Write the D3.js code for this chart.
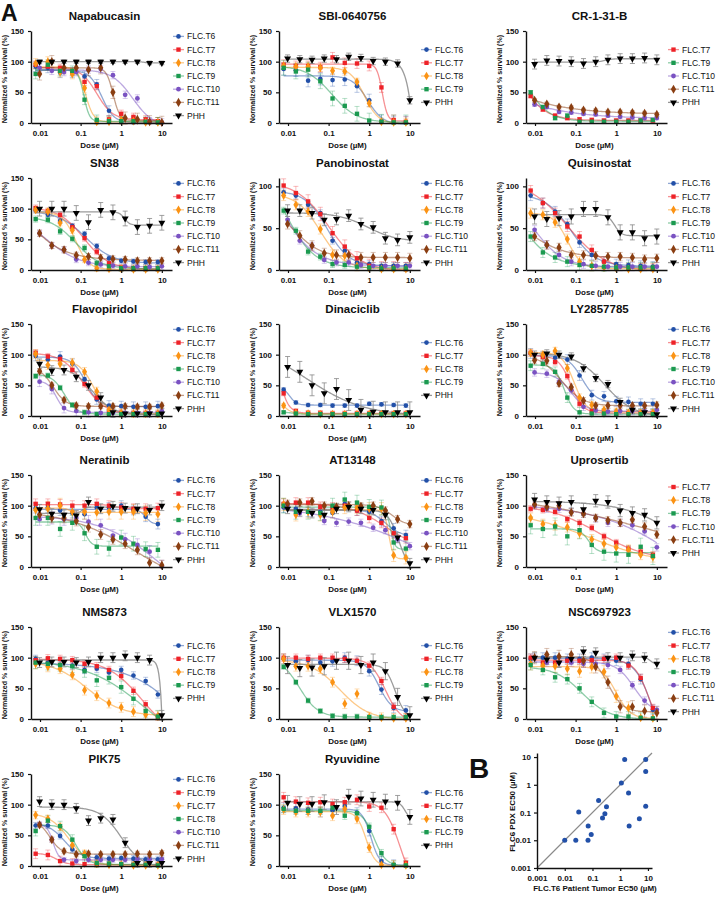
<!DOCTYPE html>
<html><head><meta charset="utf-8">
<script src="https://cdn.jsdelivr.net/npm/d3@7"></script>
<style>
body{margin:0;background:#fff}
svg{display:block}
text{font-family:"Liberation Sans",Arial,sans-serif;fill:#111}
</style></head>
<body><svg id="c" width="718" height="897"></svg>
<script>
// ---------------- DATA ----------------
const dosesTumor = [0.0078125, 0.015625, 0.03125, 0.0625, 0.125, 0.25, 0.5, 1, 2, 4, 8];
const dosesPHH   = [0.009765625, 0.01953125, 0.0390625, 0.078125, 0.15625, 0.3125, 0.625, 1.25, 2.5, 5, 10];
const xTickValues = [0.01, 0.1, 1, 10];
const xTickLabels = ["0.01", "0.1", "1", "10"];

const drugTitles = ["Napabucasin","SBI-0640756","CR-1-31-B","SN38","Panobinostat","Quisinostat",
  "Flavopiridol","Dinaciclib","LY2857785","Neratinib","AT13148","Uprosertib",
  "NMS873","VLX1570","NSC697923","PIK75","Ryuvidine"];
const yAxisMax = [150,150,150,150,110,110,150,150,150,150,150,150,150,150,150,150,150];

const allSeries = ["FLC.T6","FLC.T7","FLC.T8","FLC.T9","FLC.T10","FLC.T11","PHH"];
const fourSeries = ["FLC.T6","FLC.T7","FLC.T8","FLC.T9","PHH"];

const napabucasinSeries = allSeries;
const napabucasinValues = [
  [92,90,82,82,76,63,20,2,1,1,1],
  [95,92,90,83,67,60,6,15,10,6,3],
  [97,100,83,80,57,2,2,5,3,1,1],
  [80,95,85,85,38,5,3,3,3,2,1],
  [90,85,83,83,87,88,78,46,40,3,1],
  [80,100,90,90,87,90,50,8,6,2,1],
  [100,100,100,100,100,100,100,100,100,98,98]];
const napabucasinErrors = [8,6,8,8,6,10,3];

const sbiSeries = fourSeries;
const sbiValues = [
  [88,86,69,72,70,71,60,37,3,1,1],
  [95,93,93,91,107,98,97,93,58,5,2],
  [93,92,92,90,85,84,67,32,2,1,1],
  [90,84,87,68,40,28,15,4,2,1,1],
  [105,104,103,105,104,108,106,101,100,97,37]];
const sbiErrors = [10,8,6,12,6,8,14];

const crSeries = ["FLC.T7","FLC.T9","FLC.T10","FLC.T11","PHH"];
const crValues = [
  [44,22,12,8,6,5,4,4,4,4,4],
  [50,26,8,12,2,2,2,2,2,4,5],
  [30,26,18,17,15,14,12,10,9,8,8],
  [37,31,26,25,21,20,18,18,17,16,14],
  [96,102,101,100,97,100,103,105,105,106,103]];
const crErrors = [3,3,3,3,8];

const sn38Series = allSeries;
const sn38Values = [
  [97,90,80,72,59,39,19,15,14,13,13],
  [101,96,90,70,52,30,11,4,3,3,3],
  [98,95,77,65,17,3,2,2,1,1,1],
  [83,82,63,51,36,11,6,3,3,3,3],
  [60,40,33,17,12,9,7,6,6,5,6],
  [60,40,33,24,22,20,18,17,15,15,15],
  [100,100,100,93,78,98,94,84,70,72,77]];
const sn38Errors = [4,5,5,5,5,5,12];

const panobinostatSeries = allSeries;
const panobinostatValues = [
  [93,89,78,68,35,23,9,7,5,5,5],
  [101,92,82,67,44,28,14,5,2,2,1],
  [89,78,70,49,18,17,5,2,1,1,1],
  [71,47,22,16,7,6,4,3,2,2,2],
  [60,35,29,12,9,9,6,5,5,5,5],
  [55,41,29,20,18,18,15,15,15,15,14],
  [71,71,68,60,61,65,55,51,38,36,39]];
const panobinostatErrors = [4,8,6,4,4,6,7];

const quisinostatSeries = allSeries;
const quisinostatValues = [
  [89,80,70,55,33,18,10,7,6,5,4],
  [95,80,68,52,40,24,10,3,2,2,2],
  [68,66,57,37,10,5,3,2,1,1,1],
  [40,21,15,10,6,5,4,3,3,3,3],
  [48,30,18,10,7,5,4,4,4,4,4],
  [40,30,27,18,18,17,16,16,15,13,14],
  [64,61,62,64,73,73,63,45,45,38,40]];
const quisinostatErrors = [6,6,6,6,5,5,9];

const flavopiridolSeries = allSeries;
const flavopiridolValues = [
  [98,92,97,85,60,27,17,16,15,15,16],
  [103,97,93,75,52,30,5,5,4,4,4],
  [101,83,85,87,72,40,10,5,4,4,4],
  [65,66,46,18,6,3,3,3,3,3,3],
  [56,44,13,8,6,5,5,5,5,5,8],
  [73,50,26,17,16,16,16,16,15,15,17],
  [85,74,75,64,50,30,6,4,4,4,4]];
const flavopiridolErrors = [8,5,7,4,8,4,8];

const dinaciclibSeries = fourSeries;
const dinaciclibValues = [
  [43,22,18,18,17,17,17,20,19,18,17],
  [37,8,5,5,4,4,4,4,4,4,4],
  [17,5,4,3,3,3,3,3,3,3,3],
  [6,4,3,3,3,3,3,3,3,3,3],
  [80,72,50,37,44,26,10,7,6,6,6]];
const dinaciclibErrors = [3,4,3,2,17];

const lySeries = allSeries;
const lyValues = [
  [102,97,95,92,66,34,32,24,23,20,20],
  [103,96,88,65,20,8,6,5,5,5,5],
  [103,100,106,78,30,18,10,7,5,5,5],
  [82,85,72,30,6,4,4,3,3,3,3],
  [71,69,55,42,15,9,7,8,8,8,10],
  [91,90,53,47,25,17,17,17,17,17,18],
  [100,102,100,97,78,62,52,23,10,6,3]];
const lyErrors = [8,5,6,8,6,5,6];

const neratinibSeries = allSeries;
const neratinibValues = [
  [96,97,92,88,86,97,97,100,93,82,70],
  [103,103,102,100,100,103,100,97,95,95,96],
  [93,95,100,90,90,89,90,90,90,88,86],
  [80,80,62,72,55,33,30,48,38,29,28],
  [78,80,78,80,74,68,51,45,36,25,1],
  [85,80,80,75,65,53,45,38,28,7,3],
  [94,87,85,84,106,95,99,96,95,93,100]];
const neratinibErrors = [8,8,12,12,10,8,8];

const at13148Series = allSeries;
const at13148Values = [
  [97,95,90,90,88,103,92,90,75,63,52],
  [103,105,105,98,97,100,92,80,72,55,47],
  [102,85,90,85,90,97,97,95,95,19,15],
  [100,90,90,88,100,110,105,98,97,40,30],
  [100,88,88,75,72,74,72,64,60,45,34],
  [103,105,107,100,98,100,99,100,92,78,70],
  [95,91,88,85,95,98,95,93,85,48,6]];
const at13148Errors = [8,8,10,12,6,6,8];

const uprosertibSeries = ["FLC.T7","FLC.T8","FLC.T9","FLC.T10","FLC.T11","PHH"];
const uprosertibValues = [
  [95,93,90,78,72,64,50,40,30,25,20],
  [80,70,68,65,55,45,38,32,28,20,16],
  [68,62,66,50,60,36,25,22,20,33,18],
  [100,95,95,90,87,79,72,72,68,58,32],
  [102,98,100,89,87,80,76,72,77,66,53],
  [110,106,104,106,94,108,106,92,88,85,72]];
const uprosertibErrors = [5,8,14,6,6,10];

const nms873Series = fourSeries;
const nms873Values = [
  [98,92,88,87,80,82,76,80,71,62,40],
  [96,99,98,96,90,86,80,70,46,24,3],
  [90,85,82,72,47,38,26,19,12,7,5],
  [92,90,88,86,78,63,67,52,33,13,4],
  [92,93,93,92,93,100,100,103,100,96,6]];
const nms873Errors = [6,6,8,10,8];

const vlxSeries = fourSeries;
const vlxValues = [
  [98,94,96,92,94,100,95,78,48,18,14],
  [100,100,98,100,100,98,95,87,62,20,3],
  [98,86,86,82,60,25,41,3,2,1,1],
  [85,60,30,13,5,4,4,3,3,3,3],
  [88,83,84,86,95,95,88,92,78,36,6]];
const vlxErrors = [8,6,8,4,14];

const nscSeries = allSeries;
const nscValues = [
  [98,100,100,98,98,100,98,95,90,65,15],
  [100,92,92,95,95,96,98,100,87,67,18],
  [90,87,86,82,78,85,77,37,18,2,1],
  [88,80,68,65,50,28,10,4,4,2,1],
  [100,92,92,92,90,90,88,80,55,30,15],
  [100,105,102,105,95,85,60,20,20,13,10],
  [100,97,92,98,110,108,100,100,103,100,90]];
const nscErrors = [8,6,10,8,6,10,8];

const pik75Series = ["FLC.T6","FLC.T9","FLC.T7","FLC.T8","FLC.T10","FLC.T11","PHH"];
const pik75Marks  = ["FLC.T6","FLC.T7","FLC.T8","FLC.T9","FLC.T10","FLC.T11","PHH"];
const pik75Values = [
  [66,66,49,27,19,14,12,13,12,11,11],
  [20,18,8,4,3,2,2,2,2,2,2],
  [83,77,64,34,20,4,2,2,1,1,1],
  [57,74,65,43,16,5,4,3,2,2,1],
  [68,43,10,8,10,10,10,10,11,11,11],
  [67,43,24,19,20,19,19,19,20,19,21],
  [105,100,100,94,74,78,76,38,5,5,5]];
const pik75Errors = [5,8,6,8,4,4,8];

const ryuvidineSeries = fourSeries;
const ryuvidineValues = [
  [95,94,92,88,91,98,87,57,8,2,1],
  [112,105,103,104,101,104,108,97,95,60,5],
  [92,88,88,88,82,93,77,30,2,1,1],
  [93,90,90,90,95,82,86,64,21,2,1],
  [103,101,101,104,96,113,110,108,105,103,80]];
const ryuvidineErrors = [8,8,8,6,12];

// Panel B
const bTumorEC50 = [0.01,0.025,0.032,0.069,0.09,0.07,0.166,0.23,0.28,0.32,1.1,1.45,2.0,2.1,4.9,8.3,8.3,8.3];
const bPdxEC50   = [0.01,0.01,0.105,0.01,0.016,0.033,0.27,0.064,0.09,0.16,1.17,8.2,0.51,0.033,0.06,8.2,3.0,0.17];
const bTicks = [0.001, 0.01, 0.1, 1, 10];
const bTickLabels = ["0.001","0.01","0.1","1","10"];

// ---------------- STYLES ----------------
const styleMap = {
  "FLC.T6": {c:"#2250a8", sym:d3.symbolCircle, size:17, doses:dosesTumor},
  "FLC.T7": {c:"#ee2228", sym:d3.symbolSquare, size:19, doses:dosesTumor},
  "FLC.T8": {c:"#fb9314", sym:d3.symbolDiamond, size:22, doses:dosesTumor},
  "FLC.T9": {c:"#1b9a50", sym:d3.symbolSquare, size:19, doses:dosesTumor},
  "FLC.T10":{c:"#7a52c2", sym:d3.symbolCircle, size:18, doses:dosesPHH},
  "FLC.T11":{c:"#8a3e12", sym:d3.symbolDiamond, size:24, doses:dosesPHH},
  "PHH":    {c:"#000000", sym:d3.symbolTriangle, size:21, doses:dosesPHH, down:true}
};

const panels = [
  [napabucasinSeries, napabucasinValues, napabucasinErrors],
  [sbiSeries, sbiValues, sbiErrors],
  [crSeries, crValues, crErrors],
  [sn38Series, sn38Values, sn38Errors],
  [panobinostatSeries, panobinostatValues, panobinostatErrors],
  [quisinostatSeries, quisinostatValues, quisinostatErrors],
  [flavopiridolSeries, flavopiridolValues, flavopiridolErrors],
  [dinaciclibSeries, dinaciclibValues, dinaciclibErrors],
  [lySeries, lyValues, lyErrors],
  [neratinibSeries, neratinibValues, neratinibErrors],
  [at13148Series, at13148Values, at13148Errors],
  [uprosertibSeries, uprosertibValues, uprosertibErrors],
  [nms873Series, nms873Values, nms873Errors],
  [vlxSeries, vlxValues, vlxErrors],
  [nscSeries, nscValues, nscErrors],
  [pik75Series, pik75Values, pik75Errors, pik75Marks],
  [ryuvidineSeries, ryuvidineValues, ryuvidineErrors]
].map((p, i) => ({title: drugTitles[i], yMax: yAxisMax[i], labels: p[0], values: p[1], errors: p[2], marks: p[3] || p[0]}));

// ---------------- FIT (4-parameter logistic, least squares) ----------------
function fit4PL(xs, ys) {
  const n = xs.length;
  const my = d3.mean(ys);
  let best = {sse: d3.sum(ys, y => (y - my) ** 2), a: my, b: 0, le: 0, h: 1};
  for (let le = -3; le <= 2.0001; le += 0.04) {
    const ec = Math.pow(10, le);
    for (let h = 0.3; h <= 8; h += 0.1) {
      let sf = 0, sy = 0, sff = 0, sfy = 0;
      const f = new Array(n);
      for (let i = 0; i < n; i++) {
        f[i] = 1 / (1 + Math.pow(xs[i] / ec, h));
        sf += f[i]; sy += ys[i]; sff += f[i] * f[i]; sfy += f[i] * ys[i];
      }
      const det = n * sff - sf * sf;
      if (Math.abs(det) < 1e-6) continue;
      const b = (n * sfy - sf * sy) / det;
      const a = (sy - b * sf) / n;
      let sse = 0;
      for (let i = 0; i < n; i++) { const r = ys[i] - (a + b * f[i]); sse += r * r; }
      if (sse < best.sse) best = {sse, a, b, le, h};
    }
  }
  return x => best.a + best.b / (1 + Math.pow(x / Math.pow(10, best.le), best.h));
}

// ---------------- DRAW ----------------
const svg = d3.select("#c");
const rowBottoms = [123, 270, 416, 567, 719, 866];
const colLefts = [31, 279, 526];
const plotW = 141, plotH = 92;
const FONT = '"Liberation Sans",Arial,sans-serif';

function symPath(st, size) {
  return d3.symbol().type(st.sym).size(size || st.size)();
}

panels.forEach((p, idx) => {
  const row = Math.floor(idx / 3), col = idx % 3;
  const left = colLefts[col], bottom = rowBottoms[row], top = bottom - plotH;
  const g = svg.append("g").attr("transform", `translate(${left},${top})`);
  const x = d3.scaleLog().domain([0.006, 17.8]).range([0, plotW]);
  const y = d3.scaleLinear().domain([0, p.yMax]).range([plotH, 0]);
  const yTicks = p.yMax >= 150 ? [0, 50, 100, 150] : [0, 50, 100];

  const clipId = "clip" + idx;
  g.append("clipPath").attr("id", clipId).append("rect")
    .attr("x", 0).attr("y", -6).attr("width", plotW).attr("height", plotH + 8);

  g.append("text").attr("x", plotW / 2 + 3).attr("y", -11).attr("text-anchor", "middle")
    .attr("font-size", 11.5).attr("font-weight", "bold").attr("fill", "#111").text(p.title);

  const layer = g.append("g").attr("clip-path", `url(#${clipId})`);
  p.labels.forEach((lab, si) => {
    const st = styleMap[p.marks[si]];
    const xs = st.doses, ys = p.values[si], err = p.errors[si];
    const isPHH = lab === "PHH";
    const curveCol = isPHH ? "#8a8a8a" : st.c;
    const eg = layer.append("g").attr("stroke", isPHH ? "#8a8a8a" : st.c)
      .attr("stroke-opacity", isPHH ? 0.9 : 0.35).attr("stroke-width", 0.9);
    ys.forEach((v, i) => {
      const cx = x(xs[i]);
      eg.append("line").attr("x1", cx).attr("x2", cx).attr("y1", y(v - err)).attr("y2", y(v + err));
      eg.append("line").attr("x1", cx - 2.5).attr("x2", cx + 2.5).attr("y1", y(v + err)).attr("y2", y(v + err));
      eg.append("line").attr("x1", cx - 2.5).attr("x2", cx + 2.5).attr("y1", y(v - err)).attr("y2", y(v - err));
    });
    const fn = fit4PL(xs, ys);
    const lx0 = Math.log10(xs[0]), lx1 = Math.log10(xs[xs.length - 1]);
    const pts = d3.range(0, 121).map(k => {
      const xv = Math.pow(10, lx0 + (lx1 - lx0) * k / 120);
      return [x(xv), y(fn(xv))];
    });
    layer.append("path").attr("d", d3.line()(pts)).attr("fill", "none")
      .attr("stroke", curveCol).attr("stroke-opacity", isPHH ? 0.85 : 0.5).attr("stroke-width", 1.3);
  });
  p.labels.forEach((lab, si) => {
    const st = styleMap[p.marks[si]];
    const xs = st.doses, ys = p.values[si];
    ys.forEach((v, i) => {
      g.append("path").attr("d", symPath(st))
        .attr("transform", `translate(${x(xs[i])},${y(v)})${st.down ? " rotate(180)" : ""}`)
        .attr("fill", st.c);
    });
  });

  const xa = g.append("g").attr("transform", `translate(0,${plotH})`)
    .call(d3.axisBottom(x).tickValues(xTickValues).tickFormat((d, i) => xTickLabels[i]).tickSize(3).tickSizeOuter(0));
  const ya = g.append("g")
    .call(d3.axisLeft(y).tickValues(yTicks).tickSize(3).tickSizeOuter(0));
  [xa, ya].forEach(a => {
    a.select(".domain").attr("stroke", "#111").attr("stroke-width", 1.4);
    a.selectAll(".tick line").attr("stroke", "#111").attr("stroke-width", 1.2);
    a.selectAll(".tick text").attr("font-size", 8).attr("font-weight", "bold")
      .attr("font-family", FONT).attr("fill", "#111");
  });
  xa.selectAll(".tick text").attr("dy", "0.9em");
  ya.selectAll(".tick text").attr("dx", "-1px");

  g.append("text").attr("x", plotW / 2 - 2).attr("y", plotH + 25).attr("text-anchor", "middle")
    .attr("font-size", 8).attr("font-weight", "bold").attr("fill", "#111").text("Dose (µM)");
  g.append("text").attr("transform", `translate(-24,${plotH / 2 + 2}) rotate(-90)`).attr("text-anchor", "middle")
    .attr("font-size", 7.1).attr("font-weight", "bold").attr("fill", "#111").text("Normalized % survival (%)");

  const n = p.labels.length, sp = 13.2;
  const ly0 = plotH / 2 - 1 - (n - 1) * sp / 2;
  p.labels.forEach((lab, si) => {
    const st = styleMap[p.marks[si]];
    const lg = g.append("g").attr("transform", `translate(${plotW + 1},${ly0 + si * sp})`);
    lg.append("line").attr("x1", 0).attr("x2", 11).attr("y1", 0).attr("y2", 0)
      .attr("stroke", lab === "PHH" ? "#8a8a8a" : st.c).attr("stroke-opacity", lab === "PHH" ? 0.9 : 0.5).attr("stroke-width", 1.3);
    lg.append("path").attr("d", symPath(st)).attr("transform", `translate(5.5,0)${st.down ? " rotate(180)" : ""}`).attr("fill", st.c);
    lg.append("text").attr("x", 14).attr("y", 3).attr("font-size", 8.5).attr("fill", "#222").text(lab);
  });
});

// panel letters
svg.append("text").attr("x", 1).attr("y", 21).attr("font-size", 23).attr("font-weight", "bold").attr("fill", "#000").text("A");
svg.append("text").attr("x", 469).attr("y", 778).attr("font-size", 28).attr("font-weight", "bold").attr("fill", "#000").text("B");

// ---------------- PANEL B ----------------
{
  const bx = d3.scaleLog().domain([0.001, 14]).range([537, 652]);
  const by = d3.scaleLog().domain([0.001, 14]).range([868, 753]);
  const gb = svg.append("g");
  gb.append("line").attr("x1", bx(0.001)).attr("y1", by(0.001)).attr("x2", bx(14)).attr("y2", by(14))
    .attr("stroke", "#8a8a8a").attr("stroke-width", 1.2);
  bTumorEC50.forEach((v, i) => {
    gb.append("circle").attr("cx", bx(v)).attr("cy", by(bPdxEC50[i])).attr("r", 2.5).attr("fill", "#2250a8");
  });
  const xa = gb.append("g").attr("transform", "translate(0,868)")
    .call(d3.axisBottom(bx).tickValues(bTicks).tickFormat((d, i) => bTickLabels[i]).tickSize(3).tickSizeOuter(0));
  const ya = gb.append("g").attr("transform", "translate(537,0)")
    .call(d3.axisLeft(by).tickValues(bTicks).tickFormat((d, i) => bTickLabels[i]).tickSize(3).tickSizeOuter(0));
  [xa, ya].forEach(a => {
    a.select(".domain").attr("stroke", "#111").attr("stroke-width", 1.4);
    a.selectAll(".tick line").attr("stroke", "#111").attr("stroke-width", 1.2);
    a.selectAll(".tick text").attr("font-size", 8).attr("font-weight", "bold")
      .attr("font-family", FONT).attr("fill", "#111");
  });
  xa.selectAll(".tick text").attr("dy", "0.9em");
  gb.append("text").attr("x", 595).attr("y", 891).attr("text-anchor", "middle")
    .attr("font-size", 8).attr("font-weight", "bold").attr("fill", "#111").text("FLC.T6 Patient Tumor EC50 (µM)");
  gb.append("text").attr("transform", "translate(515,812) rotate(-90)").attr("text-anchor", "middle")
    .attr("font-size", 8).attr("font-weight", "bold").attr("fill", "#111").text("FLC6 PDX EC50 (µM)");
}
</script></body></html>
